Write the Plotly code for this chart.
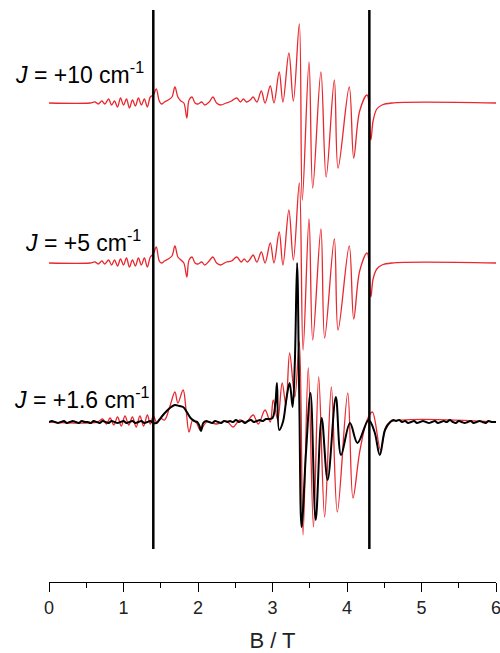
import plotly.graph_objects as go

# ---- data (B in tesla, intensities in arbitrary units) ----
TOP_B = [0.00, 0.55, 0.62, 0.66, 0.71, 0.75, 0.80, 0.84, 0.88, 0.92, 0.96, 1.00, 1.04, 1.08, 1.12,
         1.16, 1.20, 1.24, 1.28, 1.32, 1.36, 1.40, 1.44, 1.48, 1.51,
         1.55, 1.60, 1.65, 1.69, 1.73, 1.77, 1.81, 1.85, 1.88, 1.92, 1.96, 2.00, 2.05, 2.09, 2.15,
         2.20, 2.25, 2.30, 2.38, 2.45, 2.52, 2.57, 2.61, 2.65, 2.70, 2.74, 2.79, 2.85, 2.90, 2.97,
         3.02, 3.09, 3.14, 3.22, 3.28, 3.36, 3.40, 3.49, 3.54, 3.65, 3.72, 3.83, 3.88, 4.03, 4.09,
         4.17, 4.27, 4.32, 4.35, 4.40, 4.47, 4.60, 6.00]
TOP_I = [0, 0, 1, -1, 2, -1, 4, -2, 2, -4, 5, -2, 4, -5, 3,
         -3, 5, -2, 4, -4, 6, 8, 14, 2, -1,
         1, 3, 6, 16, 6, 2, 0, -15, 3, 6, 0, -1, 1, -2, 1,
         6, 0, -2, 0, 2, 5, 1, 4, 1, 3, 6, 1, 12, 0, 17,
         0, 31, 1, 50, 2, 79, -97, 41, -85, 31, -74, 23, -65, 16, -55,
         -8, 8, -37, -18, -6, -2, 0, 0]

MID_B = [0.00, 0.55, 0.62, 0.66, 0.71, 0.75, 0.80, 0.84, 0.88, 0.92, 0.96, 1.00, 1.04, 1.08, 1.12,
         1.16, 1.20, 1.24, 1.28, 1.32, 1.36, 1.40, 1.44, 1.48, 1.51,
         1.55, 1.60, 1.65, 1.69, 1.73, 1.77, 1.81, 1.85, 1.88, 1.92, 1.96, 2.00, 2.05, 2.09, 2.15,
         2.20, 2.25, 2.30, 2.38, 2.45, 2.52, 2.58, 2.62, 2.66, 2.70, 2.74, 2.79, 2.85, 2.90, 2.97,
         3.02, 3.09, 3.14, 3.22, 3.28, 3.36, 3.41, 3.49, 3.54, 3.65, 3.70, 3.83, 3.88, 4.03, 4.09,
         4.17, 4.27, 4.32, 4.35, 4.40, 4.47, 4.60, 6.00]
MID_I = [0, 0, 1, -1, 2, -1, 3, -2, 3, -3, 4, -2, 5, -4, 3,
         -3, 5, -2, 5, -4, 6, 9, 16, 2, 0,
         2, 4, 7, 17, 6, 3, 0, -14, 3, 6, 0, -1, 1, -2, 2,
         6, 0, -2, 1, 2, 6, 1, 4, 1, 4, 8, 1, 11, 0, 20,
         0, 31, -2, 53, 3, 80, -87, 44, -77, 34, -75, 24, -67, 17, -56,
         -8, 10, -34, -16, -6, -2, 0, 0]

LOW_B = [0.00, 0.65, 0.72, 0.77, 0.82, 0.87, 0.92, 0.97, 1.02, 1.07, 1.12, 1.17, 1.22, 1.27, 1.32,
         1.36, 1.40, 1.45, 1.49, 1.55, 1.62, 1.69, 1.73, 1.80, 1.84, 1.88,
         1.93, 1.98, 2.03, 2.12, 2.25, 2.38, 2.47, 2.56, 2.65, 2.74, 2.81, 2.90, 2.97, 3.01, 3.07,
         3.13, 3.18, 3.23, 3.30, 3.36, 3.41, 3.48, 3.55, 3.62, 3.70, 3.79, 3.87, 4.01, 4.08, 4.17,
         4.27, 4.34, 4.45, 4.52, 4.58, 6.00]
LOW_I = [0, 0, 3, -2, 4, -3, 5, -4, 6, -3, 5, -5, 6, -4, 7,
         -2, 6, -1, 4, 2, 15, 30, 19, 32, 12, -10,
         2, -1, -8, 0, -2, 1, -5, 2, 0, 7, -2, 12, 0, 22, 2,
         39, 17, 69, 25, 80, -113, 54, -105, 45, -95, 35, -90, 29, -76, -30,
         2, 10, -28, -5, 0, 0]

# experimental trace (black), including its small baseline noise
EXP_B = [0.00, 0.04, 0.08, 0.12, 0.16, 0.20, 0.24, 0.28, 0.32, 0.36, 0.40, 0.44, 0.48, 0.52, 0.56,
         0.60, 0.64, 0.68, 0.72, 0.76, 0.80, 0.84, 0.88, 0.92, 0.96, 1.00, 1.04, 1.08, 1.12, 1.16,
         1.20, 1.24, 1.28, 1.32, 1.36, 1.40, 1.44, 1.48, 1.52, 1.58, 1.64, 1.69, 1.75, 1.80, 1.85,
         1.90, 1.95, 1.99, 2.02, 2.04, 2.07, 2.11, 2.15, 2.19, 2.23, 2.27, 2.31, 2.35, 2.39, 2.43,
         2.47, 2.51, 2.55, 2.59, 2.63, 2.67, 2.71, 2.75, 2.79, 2.83, 2.87, 2.91, 2.95, 3.00,
         3.04, 3.06, 3.09, 3.14, 3.19, 3.23, 3.27, 3.30, 3.33, 3.36, 3.39, 3.45, 3.51, 3.58, 3.66,
         3.74, 3.85, 3.92, 4.04, 4.14, 4.29, 4.37, 4.44, 4.51, 4.58, 4.62, 4.66, 4.70, 4.74, 4.78,
         4.82, 4.86, 4.90, 4.94, 4.98, 5.02, 5.06, 5.10, 5.14, 5.18, 5.22, 5.26, 5.30, 5.34, 5.38,
         5.42, 5.46, 5.50, 5.54, 5.58, 5.62, 5.66, 5.70, 5.74, 5.78, 5.82, 5.86, 5.90, 5.94, 6.00]
EXP_I = [0, 1, 0, -1, 0, 1, -1, 0, 1, 0, -1, 1, 0, 0, -1,
         1, 0, -1, 1, 0, -1, 1, 0, -1, 0, 1, -1, 0, 1, -1,
         0, 1, -1, 0, 1, -1, -1, 2, 6, 11, 15, 17, 16, 15, 10,
         4, 1, 0, -4, -9, -1, 1, 0, -1, 1, 0, -1, 1, 0, 1,
         0, 2, 0, 1, -1, 1, 2, 0, 1, 2, 1, 3, 3, 4,
         20, 39, -8, 0, 25, 39, 15, 60, 159, 20, -105, -30, 29, -98, 4,
         -58, 25, -33, -1, -21, 2, -10, -33, -8, 0, 2, 1, 2, 0, 1,
         -1, 0, 1, -1, 0, 1, 0, -1, 0, 1, -1, 0, 1, 0, 2,
         0, -1, 1, 0, -1, 0, 1, -1, 0, 1, 0, -1, 1, 0, 0]

OFFSETS = {"top": 479, "mid": 319, "low": 160}   # baselines of the stacked spectra
LABELS = ["<i>J</i> = +10 cm<sup>-1</sup>", "<i>J</i> = +5 cm<sup>-1</sup>", "<i>J</i> = +1.6 cm<sup>-1</sup>"]
VLINES = [1.40, 4.30]
XTICKS = [0, 1, 2, 3, 4, 5, 6]

RED = "#e8282e"
FONT = "Arial, Liberation Sans, sans-serif"

fig = go.Figure()

def add(bs, vals, off, color, width):
    fig.add_trace(go.Scatter(
        x=bs, y=[v + off for v in vals], mode="lines",
        line=dict(color=color, width=width, shape="spline", smoothing=1.0),
        hoverinfo="skip", showlegend=False))

add(TOP_B, TOP_I, OFFSETS["top"], RED, 1.3)
add(MID_B, MID_I, OFFSETS["mid"], RED, 1.3)
add(LOW_B, LOW_I, OFFSETS["low"], RED, 1.3)
add(EXP_B, EXP_I, OFFSETS["low"], "black", 2.0)

for xv in VLINES:
    fig.add_shape(type="line", x0=xv, x1=xv, y0=33, y1=572, xref="x", yref="y",
                  line=dict(color="black", width=2.5), layer="above")

label_pos = [(-0.0805, 509), (-0.058, 341), (-0.0828, 184)]
for (px, py), txt in zip(label_pos, LABELS):
    fig.add_annotation(x=px, y=py, xref="paper", yref="y", text=txt, showarrow=False,
                       xanchor="left", yanchor="middle",
                       font=dict(family=FONT, size=23, color="black"))

fig.update_layout(
    width=500, height=653,
    margin=dict(l=49, r=4, t=0, b=71),
    paper_bgcolor="white", plot_bgcolor="white",
    font=dict(family=FONT, color="black"),
    xaxis=dict(range=[0, 6], tickvals=XTICKS, ticks="outside", ticklen=9, tickwidth=1.3,
               tickcolor="black", showline=True, linecolor="black", linewidth=1.3,
               showgrid=False, zeroline=False, ticklabeloverflow="allow",
               tickfont=dict(family=FONT, size=18, color="#222"),
               minor=dict(dtick=0.5, ticks="outside", ticklen=5, tickwidth=1.3, tickcolor="black"),
               title=dict(text="B / T", font=dict(family=FONT, size=22, color="#222"), standoff=19)),
    yaxis=dict(range=[0, 582], visible=False, showgrid=False, zeroline=False),
)

fig.write_html("out.html", config={"displayModeBar": False},
               post_script="document.body.style.margin='0';")
